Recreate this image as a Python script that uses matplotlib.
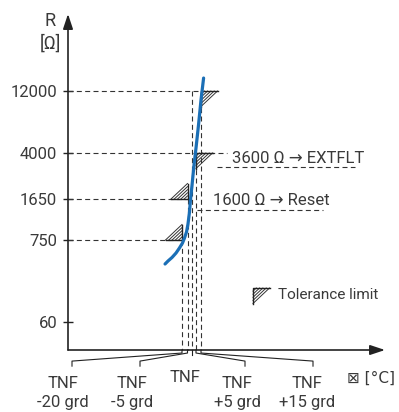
import numpy as np
import matplotlib
matplotlib.use('Agg')
import matplotlib.pyplot as plt
from matplotlib import transforms
from matplotlib.lines import Line2D

plt.rcParams['font.family'] = ['Roboto', 'DejaVu Sans']
plt.rcParams['lines.scale_dashes'] = False

# data to plot
r_ticks = [60, 750, 1650, 4000, 12000]
r_labels = ['60', '750', '1650', '4000', '12000']
tnf_offsets = [-20, -5, 0, 5, 15]
tnf_labels = ['TNF\n-20 grd', 'TNF\n-5 grd', 'TNF', 'TNF\n+5 grd', 'TNF\n+15 grd']
# tolerance limits: (temperature offset, resistance, side)
tol_t = [-20, -5, 5, 15]
tol_r = [750, 1650, 4000, 12000]
tol_side = ['max', 'max', 'min', 'min']
thresholds = [3600, 1600]
threshold_text = ['3600 Ω → EXTFLT', '1600 Ω → Reset']
# PTC characteristic curve
curve_t = [-31.9, -29.8, -27.0, -24.2, -21.8, -18.6, -13.2, -7.7, -4.4,
           -2.5, -1.3, 0.6, 2.8, 5.0, 10.0, 15.0, 16.2]
curve_r = [358, 393, 438, 502, 586, 684, 779, 875, 1019,
           1285, 1618, 2158, 3177, 4365, 6561, 10230, 15100]

# schematic (non-linear) axis scales
T_ANCH = [-100, -20, -5, 0, 5, 15, 100]
X_POS = [0, 114, 119.5, 123.5, 128, 133, 317]
R_ANCH = [25, 60, 750, 1650, 4000, 12000, 47000]
H_POS = [0, 28, 110, 151, 197, 259, 336]
LOGS = np.log10(R_ANCH)


def xf(t):
    return np.interp(t, T_ANCH, X_POS)


def xi(p):
    return np.interp(p, X_POS, T_ANCH)


def yf(r):
    r = np.clip(np.asarray(r, dtype=float), 1e-6, None)
    return np.interp(np.log10(r), LOGS, H_POS)


def yi(h):
    return 10 ** np.interp(h, H_POS, LOGS)


W, H = 399, 412
fig = plt.figure(figsize=(W / 100, H / 100), dpi=100)
ax = fig.add_axes([68 / W, 62 / H, 317 / W, 336 / H])
ax.set_xscale('function', functions=(xf, xi))
ax.set_yscale('function', functions=(yf, yi))
ax.set_xlim(-100, 100)
ax.set_ylim(25, 47000)
for s in ax.spines.values():
    s.set_visible(False)

txt = '#3a3a3a'
dark = '#222222'
dash = (0, (3.6, 2.4))
fs = 12

ax.set_xticks([])
ax.set_yticks(r_ticks)
ax.set_yticklabels(r_labels)
ax.yaxis.set_minor_locator(matplotlib.ticker.NullLocator())
ax.tick_params(axis='y', direction='inout', length=7.5, width=1.0,
               color=dark, pad=4, labelsize=fs, labelcolor=txt)

# axes with arrows
arrow = dict(arrowstyle='-|>,head_length=0.9,head_width=0.3', lw=1.2,
             color=dark, shrinkA=0, shrinkB=0)
ax.annotate('', xy=(0, 1), xytext=(0, 0), xycoords='axes fraction',
            arrowprops=arrow, annotation_clip=False)
ax.annotate('', xy=(1, 0), xytext=(0, 0), xycoords='axes fraction',
            arrowprops=arrow, annotation_clip=False)

fig.text(50 / W, 1 - 32 / H, 'R\n[Ω]', ha='center', va='center',
         fontsize=fs + 1, color=txt, linespacing=1.3)
fig.text(371 / W, 1 - 378 / H, '⊠ [°C]', ha='center', va='center',
         fontsize=fs - 1, color=txt, family=['DejaVu Sans'])

# horizontal guide lines
hx_end = {750: -20, 1650: -5, 4000: 27, 12000: 15}
for r in tol_r:
    ax.plot([-100, hx_end[r]], [r, r], color='#333333', lw=0.8,
            linestyle=dash, clip_on=False)

# vertical guide lines down from the limits
v_top = {-20: 750, -5: 1650, 0: 12000, 5: 4000, 15: 12000}
for t in tnf_offsets:
    ax.plot([t, t], [v_top[t], 25], color='#333333', lw=0.8,
            linestyle=dash, clip_on=False)


def tol_box(x, y, base, side):
    w, h = 0.165, 0.155
    n = 5
    tr = fig.dpi_scale_trans + transforms.ScaledTranslation(x, y, base)
    sx, sy = (1, -1) if side == 'min' else (-1, 1)
    for k in range(1, n + 1):
        f = k / n
        ax.add_line(Line2D([sx * w * f, 0], [0, sy * h * f], transform=tr,
                           color='#333333', lw=0.7, clip_on=False))
    ax.add_line(Line2D([sx * w, 0, 0], [0, 0, sy * h], transform=tr,
                       color=dark, lw=1.0, clip_on=False))


for t, r, s in zip(tol_t, tol_r, tol_side):
    tol_box(t, r, ax.transData, s)

# legend entry
tol_box((253 - 68) / 317, (350 - 288) / 336, ax.transAxes, 'min')
fig.text(278 / W, 1 - 295 / H, 'Tolerance limit', ha='left', va='center',
         fontsize=fs - 1, color=txt)

# threshold annotations
blend = transforms.blended_transform_factory(ax.transAxes, ax.transData)
under = blend + transforms.ScaledTranslation(0, -0.09, fig.dpi_scale_trans)
text_x = [(232 - 68) / 317, (213 - 68) / 317]
ul_x = [((217 - 68) / 317, (355 - 68) / 317), ((197 - 68) / 317, (323 - 68) / 317)]
for r, s, tx, (u0, u1) in zip(thresholds, threshold_text, text_x, ul_x):
    ax.text(tx, r, s, transform=blend, ha='left', va='center',
            fontsize=fs, color=txt)
    ax.plot([u0, u1], [r, r], transform=under, color='#333333', lw=0.8,
            linestyle=dash, clip_on=False)

# leaders to temperature labels
lead_x = {-20: 72, -5: 140, 0: None, 5: 245, 15: 313}
lab_x = {-20: 63, -5: 132, 0: 185, 5: 237, 15: 307}
for t, lab in zip(tnf_offsets, tnf_labels):
    xa = ax.transAxes.inverted().transform(ax.transData.transform((t, 100)))[0]
    if lead_x[t] is None:
        ax.plot([xa, xa], [0, -0.016], transform=ax.transAxes, color=dark,
                lw=0.8, clip_on=False)
        fig.text(lab_x[t] / W, 1 - 377 / H, lab, ha='center', va='center',
                 fontsize=fs, color=txt)
    else:
        lx = (lead_x[t] - 68) / 317
        ax.plot([xa, xa, lx, lx], [0, -0.009, -0.033, -0.048],
                transform=ax.transAxes, color=dark, lw=0.8, clip_on=False)
        fig.text(lab_x[t] / W, 1 - 393 / H, lab, ha='center', va='center',
                 fontsize=fs, color=txt, linespacing=1.3)

# characteristic curve
ax.plot(curve_t, curve_r, color='#1b6fb6', lw=2.3, solid_capstyle='round',
        clip_on=False, zorder=5)

plt.savefig('out.png', dpi=100)
